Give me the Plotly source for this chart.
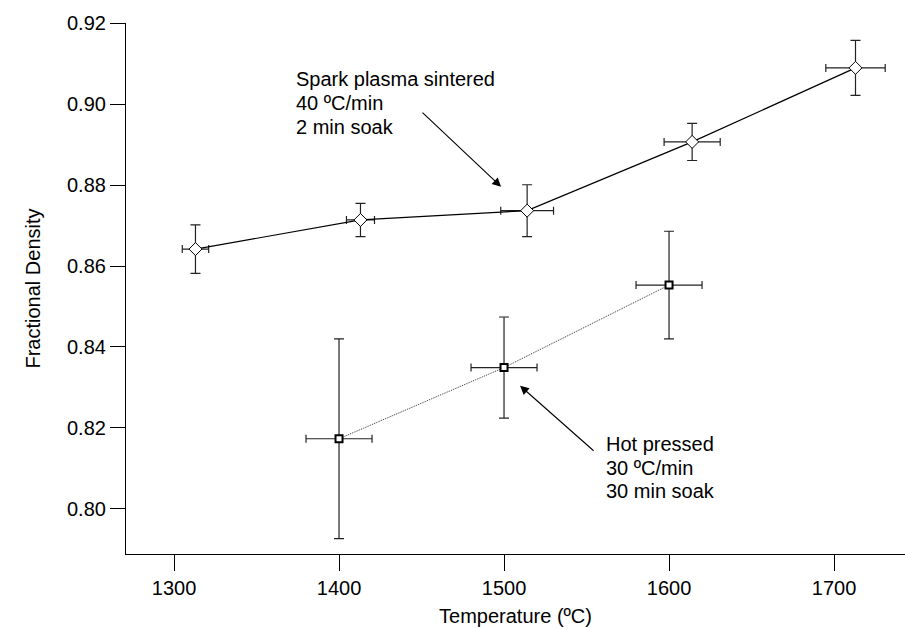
import plotly.graph_objects as go

# Spark plasma sintered series (temperature in ºC, fractional density)
sps_temp = [1313, 1413, 1514, 1614, 1713]
sps_temp_err = [8, 8.5, 16, 17, 18]
sps_density = [0.8642, 0.8714, 0.8737, 0.8907, 0.9090]
sps_density_err = [0.0060, 0.0041, 0.0064, 0.0046, 0.0068]

# Hot pressed series
hp_temp = [1400, 1500, 1600]
hp_temp_err = [20, 20, 20]
hp_density = [0.8173, 0.8349, 0.8553]
hp_density_err = [0.0247, 0.0125, 0.0133]

x_ticks = [1300, 1400, 1500, 1600, 1700]
y_ticks = [0.80, 0.82, 0.84, 0.86, 0.88, 0.90, 0.92]

FONT = "Liberation Sans, Arial, Helvetica, sans-serif"

fig = go.Figure()

fig.add_trace(go.Scatter(
    x=hp_temp, y=hp_density,
    mode="lines+markers",
    line=dict(color="#333333", width=1, dash="1px,1px"),
    marker=dict(symbol="square", size=7, color="white",
                line=dict(color="black", width=2)),
    error_x=dict(type="data", array=hp_temp_err, color="#222222",
                 thickness=1.2, width=4),
    error_y=dict(type="data", array=hp_density_err, color="#222222",
                 thickness=1.2, width=5),
    showlegend=False,
))

fig.add_trace(go.Scatter(
    x=sps_temp, y=sps_density,
    mode="lines+markers",
    line=dict(color="black", width=1.2),
    marker=dict(symbol="diamond", size=10, color="white",
                line=dict(color="black", width=1)),
    error_x=dict(type="data", array=sps_temp_err, color="#222222",
                 thickness=1.2, width=4),
    error_y=dict(type="data", array=sps_density_err, color="#222222",
                 thickness=1.2, width=5),
    showlegend=False,
))

# Callout labels, one annotation per line
sps_lines = ["Spark plasma sintered", "40 ºC/min", "2 min soak"]
sps_line_y = [0.9063, 0.9003, 0.8945]
hp_lines = ["Hot pressed", "30 ºC/min", "30 min soak"]
hp_line_y = [0.8160, 0.8101, 0.8043]

for txt, yy in zip(sps_lines, sps_line_y):
    fig.add_annotation(x=1373, y=yy, xref="x", yref="y", text=txt,
                       showarrow=False, xanchor="left", yanchor="middle",
                       font=dict(family=FONT, size=20, color="black"))
for txt, yy in zip(hp_lines, hp_line_y):
    fig.add_annotation(x=1560.5, y=yy, xref="x", yref="y", text=txt,
                       showarrow=False, xanchor="left", yanchor="middle",
                       font=dict(family=FONT, size=20, color="black"))

# Arrows pointing to each series
fig.add_annotation(x=1498.2, y=0.8796, ax=1449.7, ay=0.8983,
                   xref="x", yref="y", axref="x", ayref="y", text="",
                   showarrow=True, arrowhead=2, arrowsize=1.6,
                   arrowwidth=1.1, arrowcolor="black")
fig.add_annotation(x=1509.7, y=0.8304, ax=1555.2, ay=0.8140,
                   xref="x", yref="y", axref="x", ayref="y", text="",
                   showarrow=True, arrowhead=2, arrowsize=1.6,
                   arrowwidth=1.1, arrowcolor="black")

axis_common = dict(
    showline=True, linecolor="black", linewidth=1.2,
    ticks="outside", tickcolor="black", tickwidth=1,
    showgrid=False, zeroline=False,
    tickfont=dict(family=FONT, size=20, color="black"),
)

fig.update_xaxes(
    range=[1270.9, 1743.0], tickvals=x_ticks, ticklen=16,
    title=dict(text="Temperature (ºC)", font=dict(family=FONT, size=20, color="black"),
               standoff=10),
    **axis_common,
)
fig.update_yaxes(
    range=[0.7888, 0.9201], tickvals=y_ticks, tickformat=".2f", ticklen=15,
    title=dict(text="Fractional Density", font=dict(family=FONT, size=20, color="black"),
               standoff=20),
    **axis_common,
)

fig.update_layout(
    width=905, height=628,
    margin=dict(l=126, r=0, t=23, b=74),
    paper_bgcolor="white", plot_bgcolor="white",
    font=dict(family=FONT, size=20, color="black"),
)

fig.write_html("out.html")
